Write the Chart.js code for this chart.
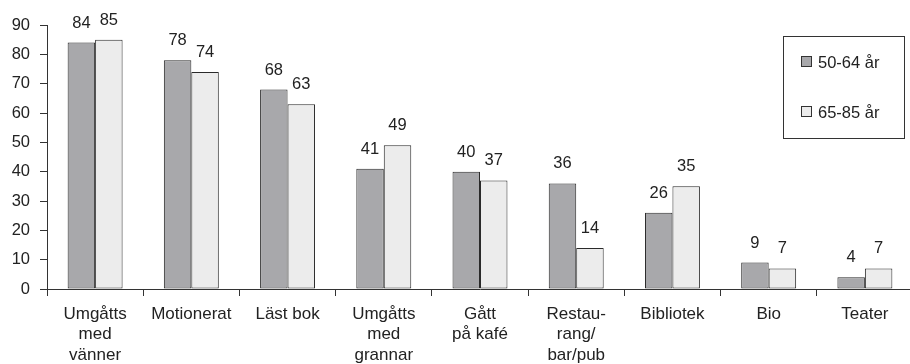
<!DOCTYPE html>
<html>
<head>
<meta charset="utf-8">
<script src="https://cdn.jsdelivr.net/npm/chart.js@4/dist/chart.umd.min.js"></script>
<style>
html,body{margin:0;padding:0;overflow:hidden;background:#fff;}
#wrap{width:914px;height:364px;}
</style>
</head>
<body>
<div id="wrap"><canvas id="c" width="914" height="364"></canvas></div>
<script>
const categories = [["Umgåtts","med","vänner"], "Motionerat", "Läst bok", ["Umgåtts","med","grannar"], ["Gått","på kafé"], ["Restau-","rang/","bar/pub"], "Bibliotek", "Bio", "Teater"];
const seriesNames = ["50-64 år", "65-85 år"];
const values5064 = [84, 78, 68, 41, 40, 36, 26, 9, 4];
const values6585 = [85, 74, 63, 49, 37, 14, 35, 7, 7];
const yTicks = [0, 10, 20, 30, 40, 50, 60, 70, 80, 90];

const FONT = '"Liberation Sans", Arial, Helvetica, sans-serif';
const TXT = '#222';
const LINE = '#333';

const valueLabels = {
  id: 'valueLabels',
  afterDatasetsDraw(chart) {
    const ctx = chart.ctx;
    ctx.save();
    ctx.font = '16.5px ' + FONT;
    ctx.fillStyle = TXT;
    ctx.textAlign = 'center';
    ctx.textBaseline = 'alphabetic';
    chart.data.datasets.forEach((ds, di) => {
      chart.getDatasetMeta(di).data.forEach((bar, i) => {
        ctx.fillText(String(ds.data[i]), bar.x, bar.y - 15);
      });
    });
    ctx.restore();
  }
};

const boxLegend = {
  id: 'boxLegend',
  afterDraw(chart) {
    const ctx = chart.ctx;
    ctx.save();
    ctx.strokeStyle = LINE;
    ctx.lineWidth = 1;
    ctx.fillStyle = '#fff';
    ctx.fillRect(783.5, 36.5, 121, 102);
    ctx.strokeRect(783.5, 36.5, 121, 102);
    ctx.font = '16.5px ' + FONT;
    ctx.textAlign = 'left';
    ctx.textBaseline = 'middle';
    chart.data.datasets.forEach((ds, i) => {
      const cy = 62 + i * 50;
      ctx.fillStyle = ds.backgroundColor;
      ctx.fillRect(801.5, cy - 5.5, 10, 10);
      ctx.strokeRect(801.5, cy - 5.5, 10, 10);
      ctx.fillStyle = TXT;
      ctx.fillText(ds.label, 818, cy + 1);
    });
    ctx.restore();
  }
};

new Chart(document.getElementById('c'), {
  type: 'bar',
  data: {
    labels: categories,
    datasets: [
      { label: seriesNames[0], data: values5064, backgroundColor: '#a8a8ab', borderColor: '#2a2a2a', borderWidth: 1, borderSkipped: false, categoryPercentage: 0.571, barPercentage: 1.0 },
      { label: seriesNames[1], data: values6585, backgroundColor: '#ececec', borderColor: '#2a2a2a', borderWidth: 1, borderSkipped: false, categoryPercentage: 0.571, barPercentage: 1.0 }
    ]
  },
  options: {
    responsive: false,
    animation: false,
    devicePixelRatio: 1,
    layout: { padding: { top: 25, right: 1, left: 0, bottom: 0 } },
    plugins: { legend: { display: false }, tooltip: { enabled: false } },
    scales: {
      x: {
        offset: true,
        grid: { display: true, offset: true, drawOnChartArea: false, drawTicks: true, tickLength: 7, color: LINE, lineWidth: 1 },
        border: { display: true, color: LINE, width: 1 },
        ticks: { color: TXT, font: { family: FONT, size: 17, lineHeight: 1.2 }, padding: 8, maxRotation: 0, autoSkip: false },
        afterFit(scale) { scale.height = 75; }
      },
      y: {
        min: 0, max: 90,
        afterBuildTicks(scale) { scale.ticks = yTicks.map(v => ({ value: v })); },
        grid: { display: true, drawOnChartArea: false, drawTicks: true, tickLength: 7, color: LINE, lineWidth: 1 },
        border: { display: true, color: LINE, width: 1 },
        ticks: { color: TXT, font: { family: FONT, size: 16.5 }, padding: 10 },
        afterFit(scale) { scale.width = 47; }
      }
    }
  },
  plugins: [valueLabels, boxLegend]
});
</script>
</body>
</html>
